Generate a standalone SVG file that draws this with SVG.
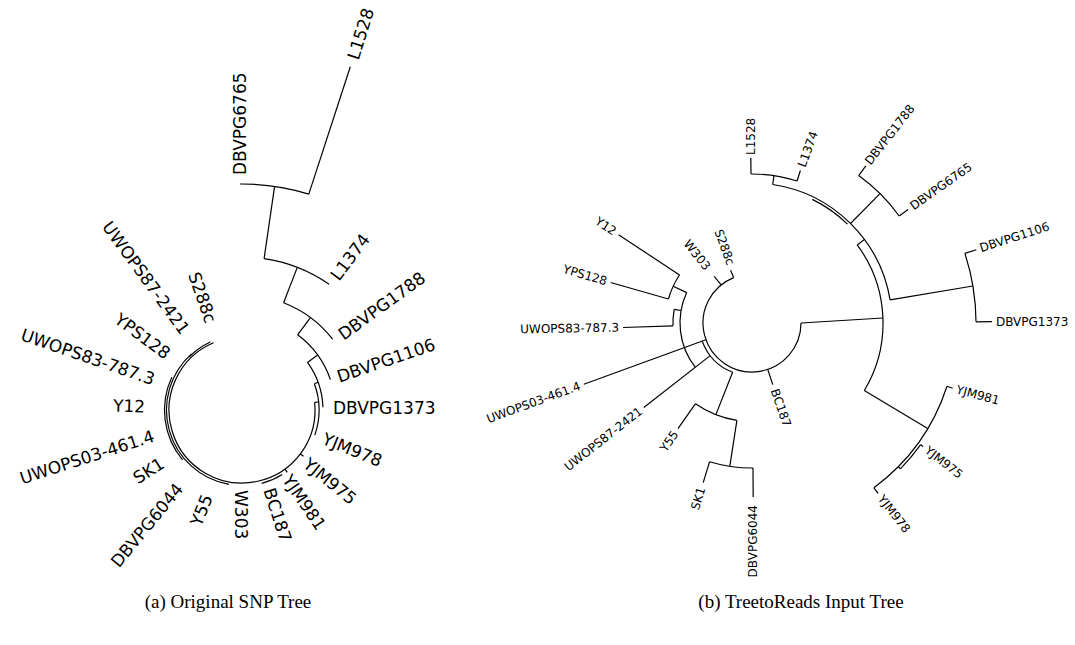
<svg xmlns="http://www.w3.org/2000/svg" width="1075" height="645" viewBox="0 0 1075 645">
<style>
.e{fill:none;stroke:#000;stroke-width:1.2;stroke-linecap:butt}
.la{font-family:"DejaVu Sans",sans-serif;font-size:17px;fill:#000;dominant-baseline:central}
.lb{font-family:"DejaVu Sans",sans-serif;font-size:12px;fill:#000;dominant-baseline:central}
.en{text-anchor:end}
.cap{font-family:"Liberation Serif",serif;font-size:19px;fill:#000;text-anchor:middle}
</style>
<rect width="1075" height="645" fill="#fff"/>
<g id="connectors-a" class="e">
<path d="M308.8,194.1 L350.3,66.7"/>
<path d="M240,184 A226,226 0 0 1 308.8,194.1"/>
<path d="M274.6,186.4 L264.1,258.6"/>
<path d="M264.1,258.6 A153,153 0 0 1 329.1,284.2"/>
<path d="M297.3,267.4 L283.6,302.8"/>
<path d="M283.6,302.8 A115,115 0 0 1 332.6,339.2"/>
<path d="M310.4,317.6 L297.6,334.8"/>
<path d="M297.6,334.8 A93.5,93.5 0 0 1 330.4,379.6"/>
<path d="M317.6,355 L307.5,362.4"/>
<path d="M307.5,362.4 A81,81 0 0 1 322.95,407.2"/>
<path d="M318.1,382.3 L314.4,383.7"/>
<path d="M314.4,383.7 A77,77 0 0 1 314.8,435.1"/>
<path d="M318.6,402 L314.6,402.4"/>
<path d="M314.6,402.4 A73,73 0 1 1 213.5,342.8"/>
<path d="M228.9,484.4 A75.5,75.5 0 0 1 191.5,353.9"/>
<path d="M182.6,459.8 A77.5,77.5 0 0 1 171.8,377.2"/>
<path d="M282.3,474.5 A76,76 0 0 1 261.7,483.4"/>
<path d="M189,357 A75,75 0 0 1 210.3,342"/>
<path d="M300.3,453.9 L303.5,456.3"/>
<path d="M284.9,469.1 L287.3,472.3"/>
</g>
<g id="connectors-b" class="e">
<path d="M733.6,277.6 A49,49 0 1 0 801,323"/>
<path d="M733.6,277.6 L730.6,270.2"/>
<path d="M721.2,284.9 L714.2,276.4"/>
<path d="M767.7,369.4 L772.8,384.6"/>
<path d="M732.6,372.3 A53,53 0 0 1 702.2,341.1"/>
<path d="M705.9,339.8 L583.8,384.2"/>
<path d="M732.6,372.3 L715.9,414.6"/>
<path d="M736.9,420.3 A98.5,98.5 0 0 1 695.5,403.7"/>
<path d="M695.5,403.7 L678,428.7"/>
<path d="M736.9,420.3 L729.8,466.3"/>
<path d="M753,468 A145,145 0 0 1 709.6,461.7"/>
<path d="M709.6,461.7 L703.2,482.7"/>
<path d="M753,468 L753.2,497"/>
<path d="M710.2,355.6 L643.8,407.5"/>
<path d="M695.3,367.3 A72,72 0 0 1 686.7,292.6"/>
<path d="M686.7,292.6 L673.2,286.2"/>
<path d="M668.4,299 A87,87 0 0 1 679.5,275"/>
<path d="M668.4,299 L610.7,282.5"/>
<path d="M679.5,275 L618.6,234.7"/>
<path d="M681.1,310.5 L674.2,309.3"/>
<path d="M673,325.8 A79,79 0 0 1 674.2,309.3"/>
<path d="M673,325.8 L623.1,327.5"/>
<path d="M801,323 L882.9,318"/>
<path d="M857.2,244.9 A131,131 0 0 1 864.3,390.5"/>
<path d="M857.2,244.9 L864.4,239.5"/>
<path d="M772.7,184.5 A140,140 0 0 1 890.1,299.9"/>
<path d="M812.3,199.4 A137.5,137.5 0 0 1 847.5,224.1"/>
<path d="M772.7,184.5 L774,175.6"/>
<path d="M751,174 A149,149 0 0 1 797.1,181"/>
<path d="M751,174 L750.8,158"/>
<path d="M797.1,181 L800.4,170.5"/>
<path d="M850.5,223.5 L880,193.6"/>
<path d="M858.7,175.6 A182,182 0 0 1 899.2,216"/>
<path d="M858.7,175.6 L865.8,165.9"/>
<path d="M899.2,216 L908.1,209.6"/>
<path d="M890.1,299.9 L972.9,286"/>
<path d="M964.9,253.4 A224,224 0 0 1 976,321.8"/>
<path d="M964.9,253.4 L976.3,249.7"/>
<path d="M976,321.8 L992,321.7"/>
<path d="M864.3,390.5 L927.7,428.6"/>
<path d="M947,386.3 A205,205 0 0 1 873.9,487.8"/>
<path d="M898.2,466.7 L900.4,468.8"/>
<path d="M900.4,468.8 A208,208 0 0 0 920.7,444.7"/>
<path d="M920.7,444.7 L923.1,446.4"/>
<path d="M947,386.3 L952.7,388.2"/>
<path d="M873.9,487.8 L878.1,493.4"/>
</g>
<g id="tree-a-labels">
<g id="a-L1528"><text class="la" transform="translate(352.7,59) rotate(-72.5)">L1528</text></g>
<g id="a-DBVPG6765"><text class="la" transform="translate(240,175) rotate(-90)">DBVPG6765</text></g>
<g id="a-L1374"><text class="la" transform="translate(334.3,278.1) rotate(-53)">L1374</text></g>
<g id="a-DBVPG1788"><text class="la" transform="translate(340.2,336) rotate(-36)">DBVPG1788</text></g>
<g id="a-DBVPG1106"><text class="la" transform="translate(337.5,377.1) rotate(-19)">DBVPG1106</text></g>
<g id="a-DBVPG1373"><text class="la" transform="translate(333,408)">DBVPG1373</text></g>
<g id="a-YJM978"><text class="la" transform="translate(323.3,438) rotate(22)">YJM978</text></g>
<g id="a-YJM975"><text class="la" transform="translate(305.7,461.6) rotate(39)">YJM975</text></g>
<g id="a-YJM981"><text class="la" transform="translate(286.7,476.3) rotate(56)">YJM981</text></g>
<g id="a-BC187"><text class="la" transform="translate(269,488.5) rotate(72)">BC187</text></g>
<g id="a-W303"><text class="la" transform="translate(241.3,490) rotate(90)">W303</text></g>
<g id="a-Y55"><text class="la en" transform="translate(207.5,495.3) rotate(-68)">Y55</text></g>
<g id="a-DBVPG6044"><text class="la en" transform="translate(179.6,485.6) rotate(-50.5)">DBVPG6044</text></g>
<g id="a-SK1"><text class="la en" transform="translate(162.3,461.7) rotate(-33)">SK1</text></g>
<g id="a-UWOPS03-461.4"><text class="la en" transform="translate(153.6,435.4) rotate(-18)">UWOPS03-461.4</text></g>
<g id="a-Y12"><text class="la en" transform="translate(145.1,406.6) rotate(2)">Y12</text></g>
<g id="a-UWOPS83-787.3"><text class="la en" transform="translate(154.1,379.7) rotate(19)">UWOPS83-787.3</text></g>
<g id="a-YPS128"><text class="la en" transform="translate(168.2,355.2) rotate(36.6)">YPS128</text></g>
<g id="a-UWOPS87-2421"><text class="la en" transform="translate(185.6,332.3) rotate(54)">UWOPS87-2421</text></g>
<g id="a-S288c"><text class="la en" transform="translate(211.1,322.3) rotate(70.6)">S288c</text></g>
</g>
<g id="tree-b-labels">
<g id="b-L1528"><text class="lb" transform="translate(750.8,155) rotate(-90)">L1528</text></g>
<g id="b-L1374"><text class="lb" transform="translate(801.6,166.7) rotate(-70)">L1374</text></g>
<g id="b-DBVPG1788"><text class="lb" transform="translate(867.5,163.4) rotate(-52)">DBVPG1788</text></g>
<g id="b-DBVPG6765"><text class="lb" transform="translate(911.4,207.2) rotate(-35)">DBVPG6765</text></g>
<g id="b-DBVPG1106"><text class="lb" transform="translate(980.1,248.4) rotate(-18)">DBVPG1106</text></g>
<g id="b-DBVPG1373"><text class="lb" transform="translate(996,321.7)">DBVPG1373</text></g>
<g id="b-YJM981"><text class="lb" transform="translate(956.5,389.4) rotate(15)">YJM981</text></g>
<g id="b-YJM975"><text class="lb" transform="translate(926.4,448.8) rotate(38)">YJM975</text></g>
<g id="b-YJM978"><text class="lb" transform="translate(880.5,496.6) rotate(52)">YJM978</text></g>
<g id="b-BC187"><text class="lb" transform="translate(774.4,389.3) rotate(71)">BC187</text></g>
<g id="b-DBVPG6044"><text class="lb en" transform="translate(753.3,505) rotate(-90)">DBVPG6044</text></g>
<g id="b-SK1"><text class="lb en" transform="translate(701.7,487.5) rotate(-73)">SK1</text></g>
<g id="b-Y55"><text class="lb en" transform="translate(675.7,432) rotate(-55)">Y55</text></g>
<g id="b-UWOPS87-2421"><text class="lb en" transform="translate(640.9,409.8) rotate(-38)">UWOPS87-2421</text></g>
<g id="b-UWOPS03-461.4"><text class="lb en" transform="translate(580,385.6) rotate(-20)">UWOPS03-461.4</text></g>
<g id="b-UWOPS83-787.3"><text class="lb en" transform="translate(619.1,327.6) rotate(-1)">UWOPS83-787.3</text></g>
<g id="b-YPS128"><text class="lb en" transform="translate(606.8,281.4) rotate(16)">YPS128</text></g>
<g id="b-Y12"><text class="lb en" transform="translate(615.2,232.5) rotate(33.5)">Y12</text></g>
<g id="b-W303"><text class="lb en" transform="translate(707.9,268.6) rotate(51)">W303</text></g>
<g id="b-S288c"><text class="lb en" transform="translate(730.8,264.7) rotate(70)">S288c</text></g>
</g>
<g id="captions">
<text class="cap" x="228" y="608">(a) Original SNP Tree</text>
<text class="cap" x="801" y="608">(b) TreetoReads Input Tree</text>
</g>
</svg>
